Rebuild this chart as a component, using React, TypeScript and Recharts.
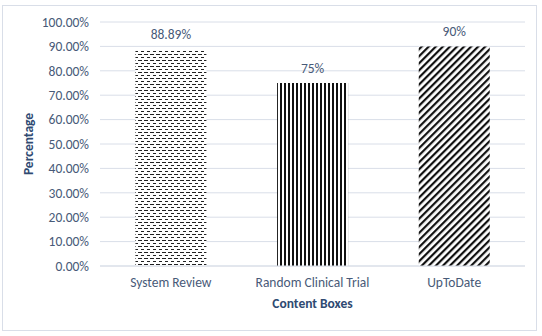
import React from "react";
import { BarChart, Bar, XAxis, YAxis, CartesianGrid, LabelList, Cell } from "recharts";

// ── Data ──────────────────────────────────────────────────────────────────────

const categories = ["System Review", "Random Clinical Trial", "UpToDate"];
const percentages = [88.89, 75, 90];
const valueLabels = ["88.89%", "75%", "90%"];
const yTicks = [0, 10, 20, 30, 40, 50, 60, 70, 80, 90, 100];

const fills = ["url(#dashH)", "url(#vert)", "url(#diag)"];

const data = categories.map((name, i) => ({
  name,
  value: percentages[i],
  label: valueLabels[i],
}));

const TEXT = "#485a78";
const TITLE = "#2f4a72";
const GRID = "#d9dee8";
const FONT = "Carlito, Calibri, 'Open Sans', sans-serif";

export default function App() {
  return (
    <div
      style={{
        position: "absolute",
        left: 0,
        top: 0,
        width: 542,
        height: 336,
        background: "#fff",
        fontFamily: FONT,
      }}
    >
      <div
        style={{
          position: "absolute",
          left: 2,
          top: 5,
          width: 535,
          height: 326,
          border: "1px solid #d9dee8",
          boxSizing: "border-box",
        }}
      />
      <BarChart
        width={542}
        height={336}
        data={data}
        margin={{ top: 22, right: 17, left: 0, bottom: 0 }}
        barCategoryGap="25%"
        style={{ position: "absolute", left: 0, top: 0 }}
      >
        <defs>
          <pattern id="dashH" width="6" height="6" patternUnits="userSpaceOnUse">
            <rect width="6" height="6" fill="#fff" />
            <rect x="0" y="0" width="4" height="1" fill="#222" />
            <rect x="3" y="3" width="4" height="1" fill="#222" />
            <rect x="-3" y="3" width="1" height="1" fill="#222" />
          </pattern>
          <pattern id="vert" width="4" height="4" patternUnits="userSpaceOnUse">
            <rect width="4" height="4" fill="#fff" />
            <rect x="0" y="0" width="2" height="4" fill="#111" />
          </pattern>
          <pattern
            id="diag"
            width="5"
            height="5"
            patternUnits="userSpaceOnUse"
            patternTransform="rotate(45)"
          >
            <rect width="5" height="5" fill="#fff" />
            <rect x="0" y="0" width="2.2" height="5" fill="#111" />
          </pattern>
        </defs>
        <CartesianGrid vertical={false} stroke={GRID} />
        <XAxis
          dataKey="name"
          axisLine={{ stroke: GRID }}
          tickLine={false}
          tick={{ fill: TEXT, fontSize: 13.5, fontFamily: FONT }}
          tickMargin={5}
          height={70}
          label={{
            value: "Content Boxes",
            position: "insideTop",
            offset: 32,
            fill: TITLE,
            fontSize: 13.5,
            fontWeight: "bold",
            fontFamily: FONT,
          }}
        />
        <YAxis
          domain={[0, 100]}
          ticks={yTicks}
          width={100}
          axisLine={false}
          tickLine={false}
          tickMargin={5}
          tickFormatter={(v: number) => `${v.toFixed(2)}%`}
          tick={{ fill: TEXT, fontSize: 13.5, fontFamily: FONT }}
          label={{
            value: "Percentage",
            angle: -90,
            position: "insideLeft",
            offset: 28,
            fill: TITLE,
            fontSize: 13.5,
            fontWeight: "bold",
            fontFamily: FONT,
            style: { textAnchor: "middle" },
          }}
        />
        <Bar dataKey="value" isAnimationActive={false}>
          {data.map((d, i) => (
            <Cell key={d.name} fill={fills[i]} />
          ))}
          <LabelList
            dataKey="label"
            position="top"
            offset={10}
            fill={TEXT}
            fontSize={13.5}
            fontFamily={FONT}
          />
        </Bar>
      </BarChart>
    </div>
  );
}
